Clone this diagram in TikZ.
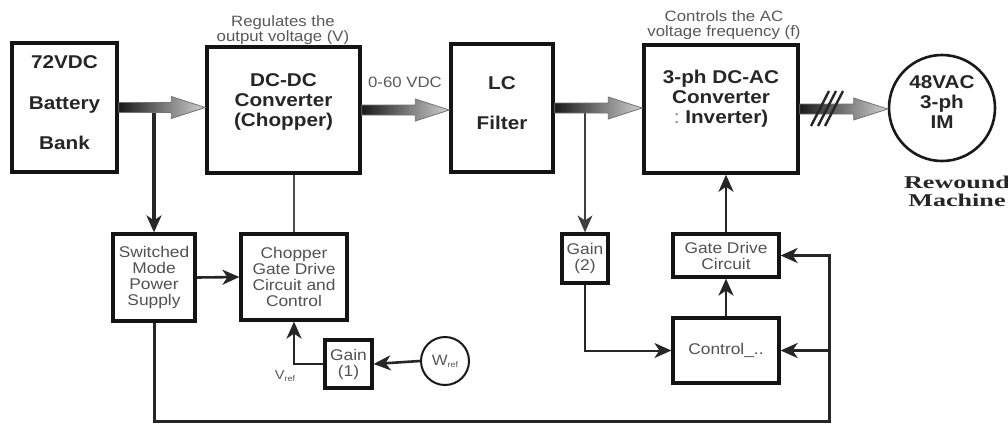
\documentclass[tikz,border=0pt]{standalone}
\usepackage{fontspec}
\setmainfont{Liberation Sans}
\newfontfamily\sfw[FakeStretch=1.12]{Liberation Sans}
\newfontfamily\serw[FakeStretch=1.45]{Liberation Serif}
\usetikzlibrary{calc,arrows.meta}
\tikzset{
  box/.style={draw=black!92, line width=3.5pt, inner sep=0pt, fill=white},
  sbox/.style={draw=black!92, line width=3.2pt, inner sep=0pt, fill=white, font=\sfw\fontsize{15.5}{16}\selectfont, text=black!68, align=center},
  bigtxt/.style={font=\sfw\bfseries\fontsize{18.5}{20}\selectfont, text=black!85, align=center, inner sep=0pt},
  note/.style={font=\sfw\fontsize{15}{15}\selectfont, text=black!65, align=center, inner sep=0pt},
  conn/.style={draw=black!85, line width=2.6pt, -{Stealth[length=17pt,width=15pt,inset=5pt]}},
  thinline/.style={draw=black!70, line width=1.6pt},
  bigarrow/.style={left color=black!90, right color=black!18, draw=black!55, line width=0.8pt},
  slash/.style={draw=black!85, line width=2.4pt},
}
\newcommand\bigarr[2]{%
  \shade[bigarrow] ($(#1.east)+(0,-5)$) -- ($(#2.west |- #1.east)+(-34,-5)$) -- ($(#2.west |- #1.east)+(-34,-11)$) -- (#2.west |- #1.east) -- ($(#2.west |- #1.east)+(-34,11)$) -- ($(#2.west |- #1.east)+(-34,5)$) -- ($(#1.east)+(0,5)$) -- cycle;}
\begin{document}
\begin{tikzpicture}[x=1pt,y=-1pt]
\useasboundingbox[fill=white] (0,0) rectangle (1008,424);

% main boxes
\node[box, minimum width=105pt, minimum height=129pt] (bat) at (64.5,107.5) {};
\node[bigtxt, font=\sfw\bfseries\fontsize{18.5}{40.5}\selectfont] (batt) at (64.5,103) {72VDC\\Battery\\Bank};

\node[box, minimum width=153pt, minimum height=126pt] (dc) at (283.5,110) {};
\node[bigtxt] (dct) at (283.5,102) {DC-DC\\Converter\\(Chopper)};

\node[box, minimum width=102pt, minimum height=128pt] (lc) at (502,108) {};
\node[bigtxt, font=\sfw\bfseries\fontsize{18.5}{40}\selectfont] (lct) at (502,103) {LC\\Filter};

\node[box, minimum width=154pt, minimum height=128pt] (inv) at (721,109) {};
\node[bigtxt] (invt) at (721,99) {3-ph DC-AC\\Converter\\{\color{black!50}\mdseries:}\ Inverter)};

\node[draw=black!90, line width=2.6pt, circle, minimum size=106pt, inner sep=0pt] (im) at (942,108) {};
\node[bigtxt] (imt) at (942,102) {48VAC\\3-ph\\IM};
\node[font=\serw\bfseries\fontsize{18}{18}\selectfont, text=black!85, align=center, inner sep=0pt] (rw) at (957,191) {Rewound\\Machine};

% top notes
\node[note] (reg) at (283,30.5) {Regulates the\\output voltage (V)};
\node[note] (ctl) at (724,25.5) {Controls the AC\\voltage frequency (f)};

% small boxes
\node[sbox, minimum width=82pt, minimum height=87pt] (smps) at (154,277.5) {Switched\\Mode\\Power\\Supply};
\node[sbox, minimum width=106pt, minimum height=86pt] (cgd) at (294,277) {Chopper\\Gate Drive\\Circuit and\\Control};
\node[sbox, minimum width=47pt, minimum height=48pt] (g1) at (348.5,364) {Gain\\(1)};
\node[draw=black!90, line width=2pt, circle, minimum size=48pt, inner sep=0pt, font=\sfw\fontsize{15}{15}\selectfont, text=black!65] (wref) at (445,361) {W\raisebox{-2pt}{\fontsize{8}{8}\selectfont ref}};
\node[sbox, minimum width=46pt, minimum height=49pt] (g2) at (585,258.5) {Gain\\(2)};
\node[sbox, minimum width=106pt, minimum height=43pt] (gdc) at (726,255.5) {Gate Drive\\Circuit};
\node[sbox, minimum width=106pt, minimum height=65pt] (ctrl) at (726,350.5) {\raisebox{-5pt}{Control\_..}};

% connectors below the big arrows
\draw[conn, line width=3.4pt] (smps.north |- bat.east) -- (smps.north);
\draw[conn, line width=1.8pt, draw=black!75] (g2.north |- lc.east) -- (g2.north);

% big arrows
\bigarr{bat}{dc}
\bigarr{dc}{lc}
\bigarr{lc}{inv}
\bigarr{inv}{im}
\node[note] (vdc) at (405,82) {0-60 VDC};
\draw[slash] (811,126) -- (829,91);
\draw[slash] (818,126) -- (836,91);
\draw[slash] (825,126) -- (843,91);

% control connectors
\draw[thinline] (cgd.north) -- (cgd.north |- dc.south);
\draw[conn] (smps.east) -- (cgd.west);
\draw[conn] (g1.west) -| (cgd.south);
\node[note, font=\sfw\fontsize{13}{13}\selectfont] (vref) at (285,376) {V\raisebox{-2pt}{\fontsize{8}{8}\selectfont ref}};
\draw[conn] (wref.west) -- (g1.east);
\draw[conn, line width=2pt] (g2.south) |- (ctrl.west);
\draw[conn] (ctrl.north) -- (gdc.south);
\draw[conn] (gdc.north) -- (gdc.north |- inv.south);
\coordinate (br) at (829,421);
\draw[conn, line width=3pt] (smps.south) |- (br) |- (gdc.east);
\coordinate (bj) at (br |- ctrl.east);
\draw[conn, line width=3pt] (bj) -- (ctrl.east);
\end{tikzpicture}
\end{document}
